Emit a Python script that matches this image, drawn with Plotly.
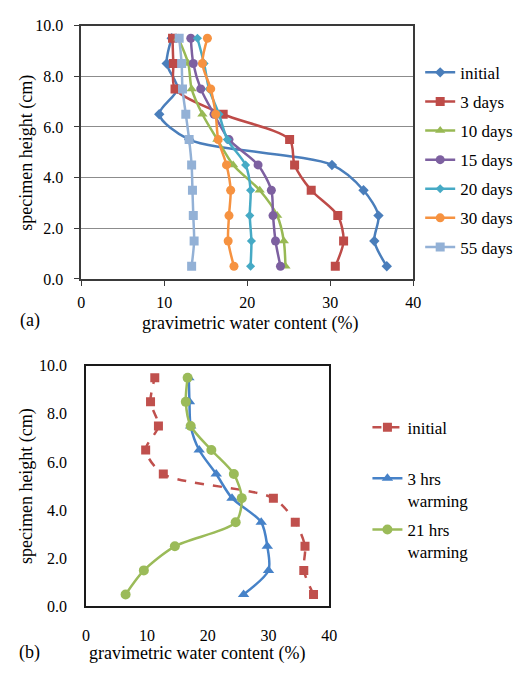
import plotly.graph_objects as go

W, H = 521, 673

heights = [0.5, 1.5, 2.5, 3.5, 4.5, 5.5, 6.5, 7.5, 8.5, 9.5]

# panel (a)
a_names = ["initial", "3 days", "10 days", "15 days", "20 days", "30 days", "55 days"]
a_initial = [36.8, 35.3, 35.8, 34.0, 30.2, 13.0, 9.4, 11.6, 10.3, 10.9]
a_3days = [30.6, 31.6, 30.9, 27.7, 25.7, 25.1, 17.1, 11.3, 11.1, 11.0]
a_10days = [24.6, 24.4, 23.6, 21.5, 18.3, 16.4, 14.6, 13.3, 12.9, 11.7]
a_15days = [24.0, 23.4, 23.1, 22.9, 21.3, 17.8, 16.0, 14.4, 13.5, 13.2]
a_20days = [20.4, 20.5, 20.3, 20.4, 19.8, 17.6, 16.6, 15.4, 14.8, 14.0]
a_30days = [18.4, 17.7, 17.8, 18.0, 17.5, 16.5, 16.2, 15.6, 14.6, 15.2]
a_55days = [13.3, 13.6, 13.5, 13.4, 13.3, 13.0, 12.6, 12.2, 12.1, 11.8]

# panel (b)
b_names = ["initial<br> ", "3 hrs<br>warming", "21 hrs<br>warming"]
b_initial = [37.4, 35.8, 36.0, 34.4, 30.8, 12.7, 9.8, 11.9, 10.6, 11.3]
b_3hrs = [25.9, 30.0, 29.8, 28.8, 24.0, 21.4, 18.6, 17.2, 17.0, 16.9]
b_21hrs = [6.5, 9.5, 14.6, 24.6, 25.6, 24.3, 20.6, 17.2, 16.4, 16.7]

y_ticks = [0, 2, 4, 6, 8, 10]
x_ticks = [0, 10, 20, 30, 40]

FONT = "'Liberation Serif', 'Times New Roman', Times, 'DejaVu Serif', serif"

a_series = [a_initial, a_3days, a_10days, a_15days, a_20days, a_30days, a_55days]
a_colors = ["#4A7EBB", "#BE4B48", "#98B954", "#7D60A0", "#46AAC5", "#F69240", "#93B1D6"]
a_symbols = ["diamond", "square", "triangle-up", "circle", "diamond", "circle", "square"]
a_sizes = [8, 9, 9, 9, 7, 9, 9]

fig = go.Figure()

for i, (nm, vals) in enumerate(zip(a_names, a_series)):
    fig.add_trace(go.Scatter(
        x=vals, y=heights, name=nm, mode="lines+markers",
        line=dict(color=a_colors[i], width=2.5, shape="spline", smoothing=0.8),
        marker=dict(symbol=a_symbols[i], size=a_sizes[i], color=a_colors[i]),
        xaxis="x", yaxis="y", legend="legend", legendgroup="a%d" % i,
    ))

b_series = [b_initial, b_3hrs, b_21hrs]
b_colors = ["#C0504D", "#4682C8", "#9BBB59"]
b_symbols = ["square", "triangle-up", "circle"]
b_sizes = [9, 10, 10]
b_dash = ["dash", "solid", "solid"]
for i, (nm, vals) in enumerate(zip(b_names, b_series)):
    fig.add_trace(go.Scatter(
        x=vals, y=heights, name=nm, mode="lines+markers",
        line=dict(color=b_colors[i], width=2.5, shape="spline", smoothing=0.8, dash=b_dash[i]),
        marker=dict(symbol=b_symbols[i], size=b_sizes[i], color=b_colors[i]),
        xaxis="x2", yaxis="y2", legend="legend2", legendgroup="b%d" % i,
    ))

def px_x(p):
    return p / W

def px_y(p):
    return 1 - p / H

tickfont = dict(family=FONT, size=16, color="#000000")

fig.update_layout(
    width=W, height=H,
    margin=dict(l=0, r=0, t=0, b=0),
    paper_bgcolor="white", plot_bgcolor="white",
    font=dict(family=FONT, size=16, color="#000000"),
    xaxis=dict(domain=[px_x(79), px_x(419)], range=[0, 40], tickvals=x_ticks,
               anchor="y", showgrid=False, zeroline=False,
               showline=True, linecolor="#3a3a3a", linewidth=1.5, mirror=True,
               ticks="outside", ticklen=5, tickcolor="#3a3a3a", tickfont=tickfont,
               ticklabelstandoff=3),
    yaxis=dict(domain=[px_y(278), px_y(18)], range=[0, 10], tickvals=y_ticks,
               tickformat=".1f", anchor="x", showgrid=True, gridcolor="#8c8c8c",
               gridwidth=1, zeroline=False,
               showline=True, linecolor="#3a3a3a", linewidth=1.5, mirror=True,
               ticks="outside", ticklen=5, tickcolor="#3a3a3a", tickfont=tickfont,
               ticklabelstandoff=8),
    xaxis2=dict(domain=[px_x(84), px_x(333)], range=[0, 40], tickvals=x_ticks,
                anchor="y2", showgrid=False, zeroline=False,
                showline=True, linecolor="#1a1a1a", linewidth=1.5, mirror=True,
                ticks="", tickfont=tickfont, ticklabelstandoff=14),
    yaxis2=dict(domain=[px_y(614), px_y(367)], range=[0, 10], tickvals=y_ticks,
                tickformat=".1f", anchor="x2", showgrid=False, zeroline=False,
                showline=True, linecolor="#1a1a1a", linewidth=1.5, mirror=True,
                ticks="", tickfont=tickfont, ticklabelstandoff=14),
    legend=dict(x=px_x(426), xanchor="left", y=px_y(48), yanchor="top",
                font=dict(family=FONT, size=17, color="#000000"),
                bgcolor="rgba(0,0,0,0)", tracegroupgap=4, borderwidth=0),
    legend2=dict(x=px_x(372), xanchor="left", y=px_y(412), yanchor="top",
                 font=dict(family=FONT, size=17, color="#000000"),
                 bgcolor="rgba(0,0,0,0)", tracegroupgap=4, borderwidth=0,
                 valign="top"),
    showlegend=True,
)

annots = [
    dict(text="specimen height (cm)", x=px_x(23), y=px_y(148), textangle=-90),
    dict(text="gravimetric water content (%)", x=px_x(252), y=px_y(324)),
    dict(text="(a)", x=px_x(27), y=px_y(321)),
    dict(text="specimen height (cm)", x=px_x(23), y=px_y(490), textangle=-90),
    dict(text="gravimetric water content (%)", x=px_x(198), y=px_y(662)),
    dict(text="(b)", x=px_x(26), y=px_y(661)),
]
for a in annots:
    fig.add_annotation(xref="paper", yref="paper", showarrow=False,
                       xanchor="center", yanchor="middle",
                       font=dict(family=FONT, size=18, color="#000000"), **a)

fig.write_html("out.html")
